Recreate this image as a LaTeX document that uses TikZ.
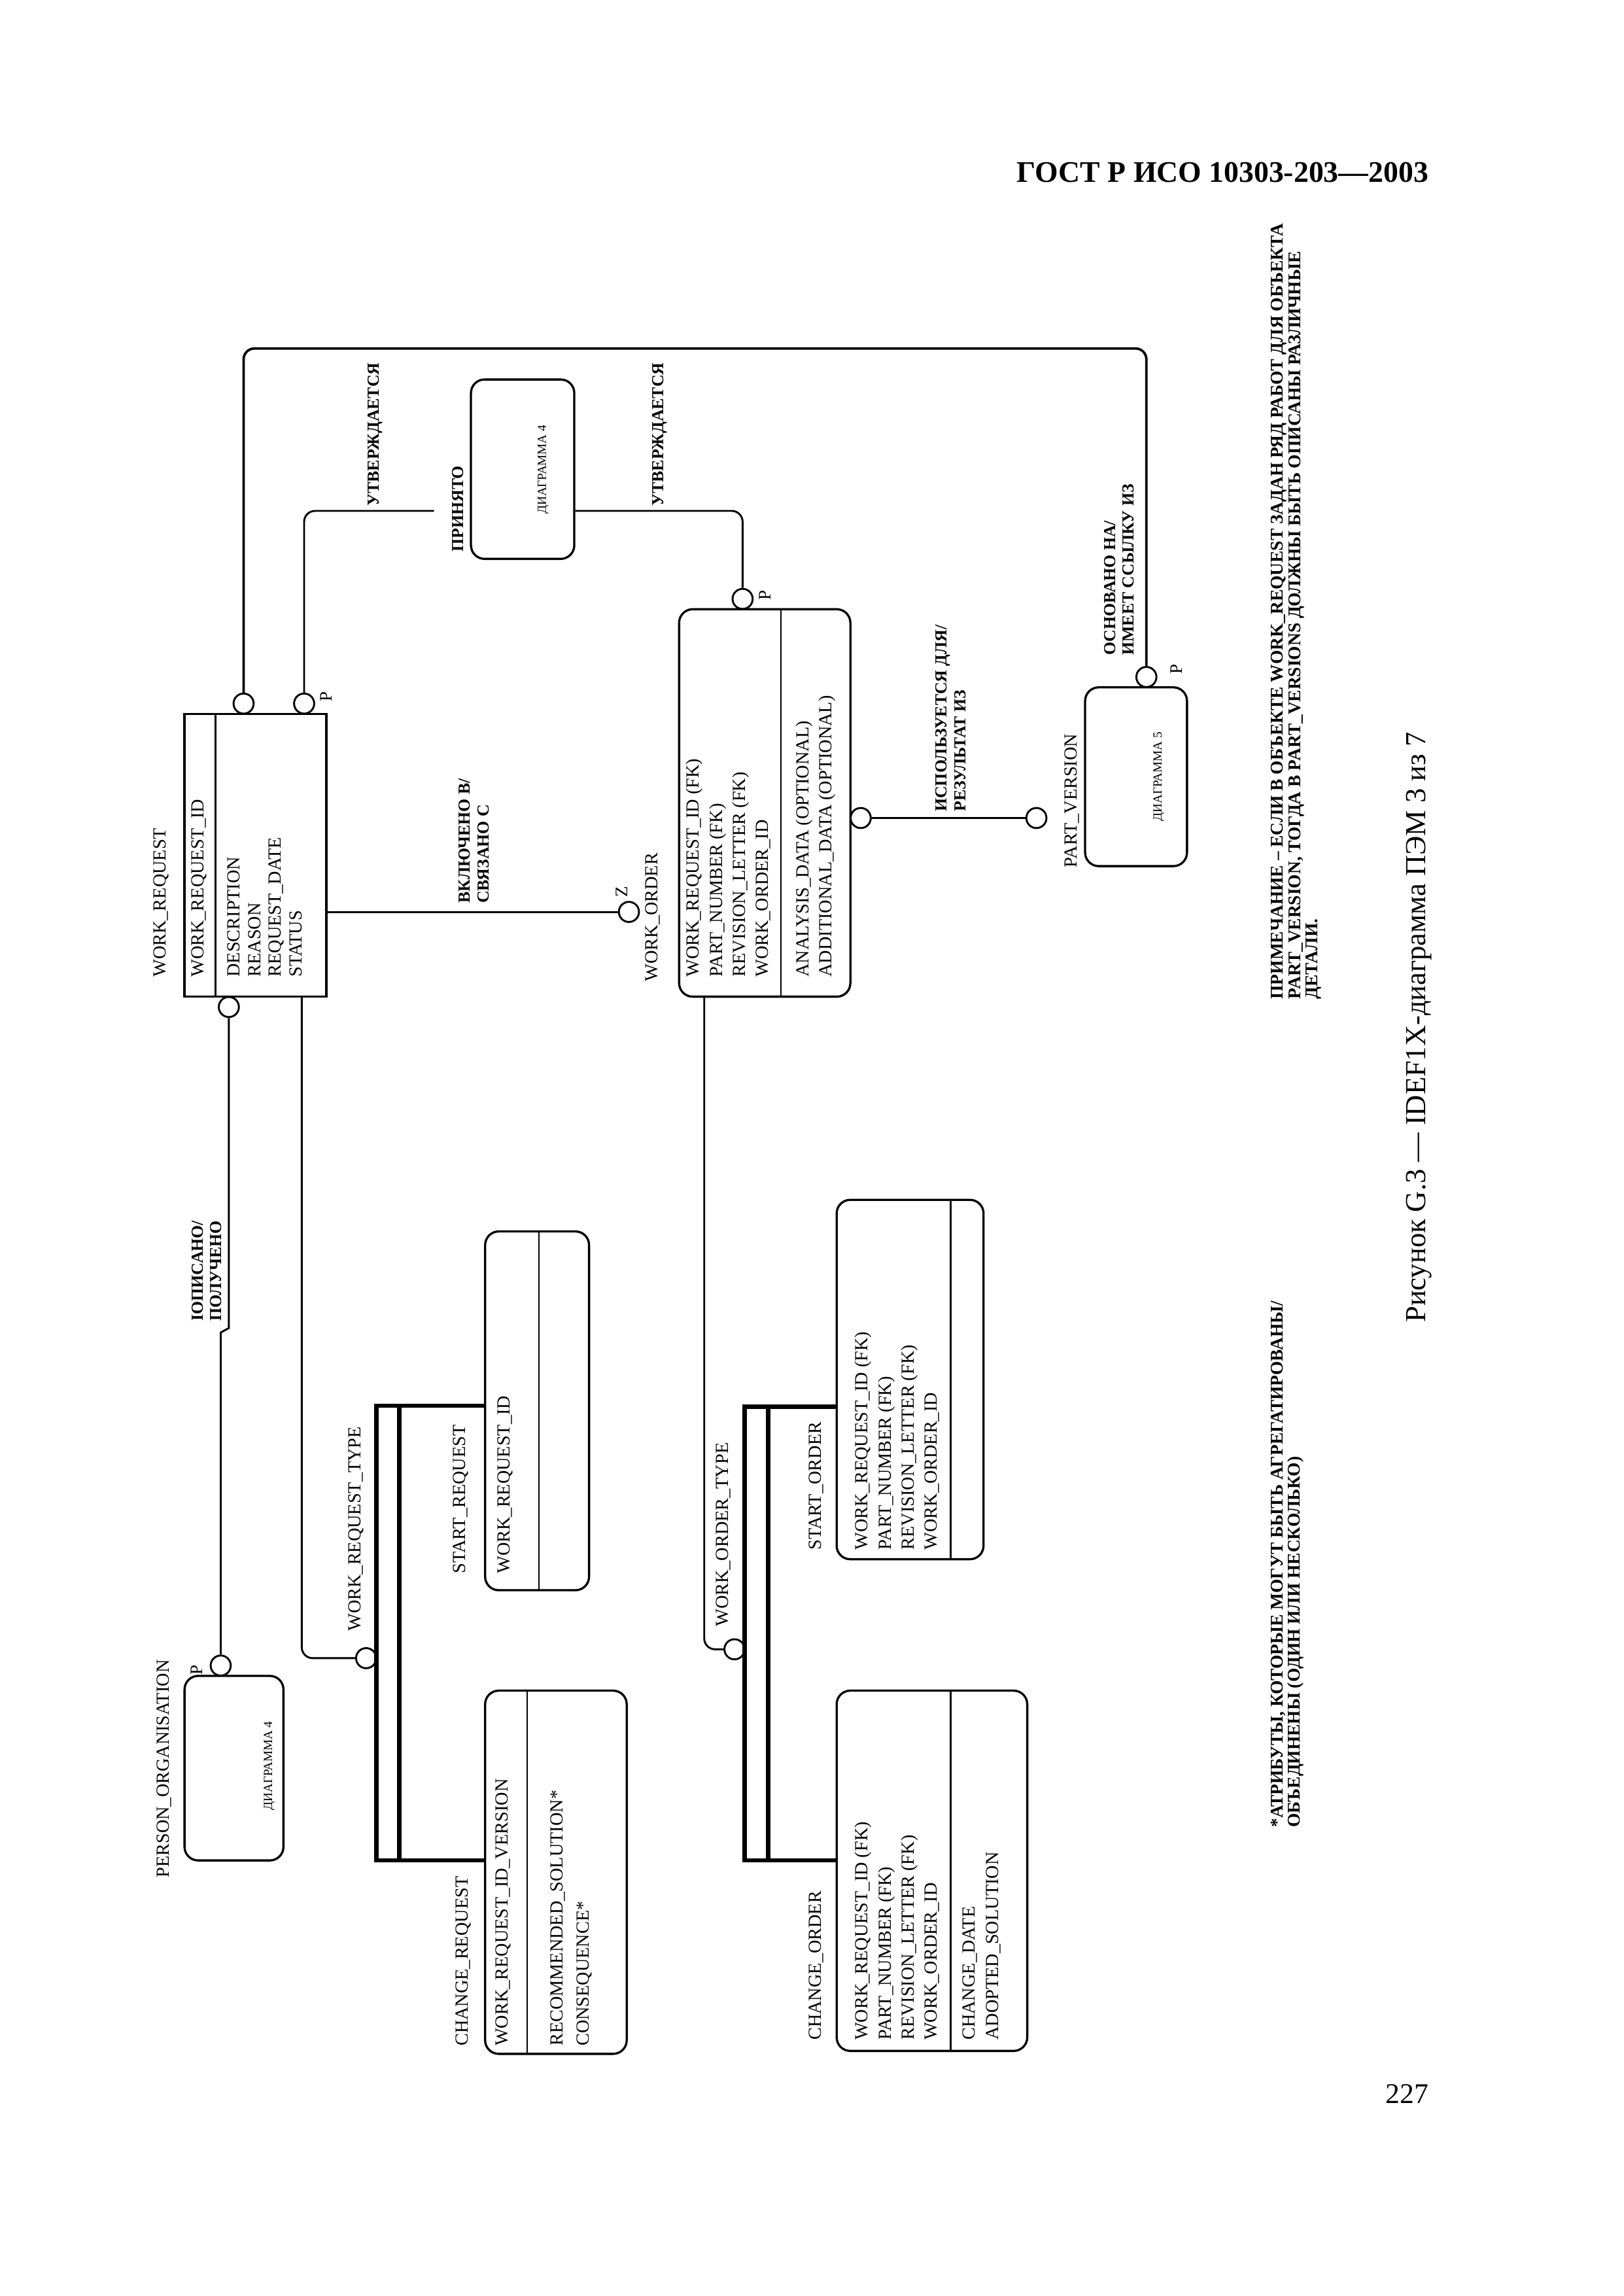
\documentclass[tikz,border=0pt]{standalone}
\usepackage{fontspec}
\setmainfont{Liberation Serif}
\usetikzlibrary{fit,positioning}

\tikzset{
  ent/.style={draw, line width=.8pt, inner sep=0pt},
  entr/.style={ent, rounded corners=5pt},
  ring/.style={draw, circle, fill=white, line width=.7pt, minimum size=2.6mm, inner sep=0pt},
  rel/.style={line width=.7pt, rounded corners=4pt},
  divline/.style={line width=.6pt},
  catbar/.style={line width=1.6pt},
  lbl/.style={rotate=90, anchor=west, align=left, inner sep=0pt, font=\fontsize{6.8}{8.5}\selectfont},
  verb/.style={lbl, font=\fontsize{6.2}{6.8}\selectfont\bfseries},
  card/.style={rotate=90, inner sep=0pt, font=\fontsize{6.5}{7}\selectfont},
  diag/.style={rotate=90, inner sep=0pt, font=\fontsize{4.6}{5.5}\selectfont},
  notes/.style={lbl, font=\fontsize{6.6}{6.3}\selectfont\bfseries},
}

\begin{document}
\begin{tikzpicture}[x=0.19091mm, y=-0.19091mm]
    \useasboundingbox (0,0) rectangle (1100,1555);

    % page head and number
    \node[anchor=base east, font=\fontsize{11}{13}\selectfont\bfseries] (gost) at (974,123.5) {ГОСТ Р ИСО 10303-203—2003};
    \node[anchor=base east, font=\fontsize{10.5}{12}\selectfont] (page) at (974,1424.5) {227};

    % entities
    \node[ent, fit={(125,483.5) (221,675)}] (wr) {};
    \node[entr, fit={(460,412.6) (576,675)}] (wo) {};
    \node[entr, fit={(319,257) (389,378.5)}] (dtop) {};
    \node[entr, fit={(735,465.5) (804,586.6)}] (pv) {};
    \node[entr, fit={(125,1135) (192,1260)}] (po) {};
    \node[entr, fit={(328.6,834) (399,1077)}] (sr) {};
    \node[entr, fit={(328.6,1145) (424.5,1391)}] (cr) {};
    \node[entr, fit={(566.7,812.6) (666.2,1056)}] (so) {};
    \node[entr, fit={(566.7,1145) (695.8,1389)}] (co) {};

    \draw[divline] (146,483.5) -- (146,675);
    \draw[divline] (529,412.6) -- (529,675);
    \draw[divline] (365,834) -- (365,1077);
    \draw[divline] (357,1145) -- (357,1391);
    \draw[divline] (644,812.6) -- (644,1056);
    \draw[divline] (644,1145) -- (644,1389);

    % relationship ends
    \node[ring] (rwr1) at (165,476.5) {};
    \node[ring] (rwr2) at (206,476.5) {};
    \node[ring] (rwr3) at (155,682) {};
    \node[ring] (rz) at (426,617.6) {};
    \node[ring] (rwo1) at (503,405.6) {};
    \node[ring] (rwo2) at (583,554) {};
    \node[ring] (rpv1) at (702,554) {};
    \node[ring] (rpv2) at (776.5,458.5) {};
    \node[ring] (rpo) at (149.5,1128) {};
    \node[ring] (rwrt) at (248,1123) {};
    \node[ring] (rwot) at (497.5,1117) {};

    % connectors
    \coordinate (ytop) at (0,236);
    \coordinate (acc) at (294,346);
    \coordinate (wrb) at (204.4,675);
    \coordinate (wob) at (477,675);
    \draw[rel, line width=.9pt] (rwr1.north) -- (rwr1.north |- ytop) -| (rpv2.north);
    \draw[rel] (rwr2.north) |- (acc);
    \draw[rel] (dtop.east |- acc) -| (rwo1.north);
    \draw[rel] (wr.east |- rz) -- (rz.west);
    \draw[rel] (rwo2.east) -- (rpv1.west);
    \draw[rel, rounded corners=0pt] (rwr3.south) -- ++(0,210) -- ++(-5.5,3) -- (rpo.north);
    \draw[rel] (wrb) |- (rwrt.west);
    \draw[rel] (wob) |- (rwot.west);

    % category symbols
    \coordinate (wrt1) at (255,952);
    \coordinate (wrt2) at (255,1260);
    \coordinate (wrt3) at (270.6,952);
    \coordinate (wrt4) at (270.6,1260);
    \draw[catbar] (sr.west |- wrt1) -- (wrt1) -- (wrt2) -- (cr.west |- wrt2);
    \draw[catbar] (wrt3) -- (wrt4);
    \coordinate (wot1) at (504.4,952.6);
    \coordinate (wot2) at (504.4,1260);
    \coordinate (wot3) at (520.2,952.6);
    \coordinate (wot4) at (520.2,1260);
    \draw[catbar] (so.west |- wot1) -- (wot1) -- (wot2) -- (co.west |- wot2);
    \draw[catbar] (wot3) -- (wot4);

    % names and attributes
    \node[lbl] (wrname) at (109,662) {WORK\_REQUEST};
    \node[lbl] (wrkey) at (135,662) {WORK\_REQUEST\_ID};
    \node[lbl, font=\fontsize{6.8}{7.6}\selectfont] (wrattr) at (179.3,662) {DESCRIPTION\\REASON\\REQUEST\_DATE\\STATUS};
    \node[lbl] (woname) at (442,665) {WORK\_ORDER};
    \node[lbl] (wokey) at (493.5,662) {WORK\_REQUEST\_ID (FK)\\PART\_NUMBER (FK)\\REVISION\_LETTER (FK)\\WORK\_ORDER\_ID};
    \node[lbl] (woattr) at (552.5,662) {ANALYSIS\_DATA (OPTIONAL)\\ADDITIONAL\_DATA (OPTIONAL)};
    \node[lbl] (pvname) at (726,588) {PART\_VERSION};
    \node[lbl] (poname) at (111,1272) {PERSON\_ORGANISATION};
    \node[lbl] (wrtname) at (241,1105) {WORK\_REQUEST\_TYPE};
    \node[lbl] (srname) at (312,1066) {START\_REQUEST};
    \node[lbl] (srkey) at (342,1066) {WORK\_REQUEST\_ID};
    \node[lbl] (crname) at (314,1386) {CHANGE\_REQUEST};
    \node[lbl] (crkey) at (341,1386) {WORK\_REQUEST\_ID\_VERSION};
    \node[lbl, font=\fontsize{6.8}{9.5}\selectfont] (crattr) at (387,1386) {RECOMMENDED\_SOLUTION*\\CONSEQUENCE*};
    \node[lbl] (wotname) at (490,1102) {WORK\_ORDER\_TYPE};
    \node[lbl] (soname) at (553,1050) {START\_ORDER};
    \node[lbl] (sokey) at (607.7,1050) {WORK\_REQUEST\_ID (FK)\\PART\_NUMBER (FK)\\REVISION\_LETTER (FK)\\WORK\_ORDER\_ID};
    \node[lbl] (coname) at (553,1382) {CHANGE\_ORDER};
    \node[lbl] (cokey) at (607.7,1382) {WORK\_REQUEST\_ID (FK)\\PART\_NUMBER (FK)\\REVISION\_LETTER (FK)\\WORK\_ORDER\_ID};
    \node[lbl] (coattr) at (665,1382) {CHANGE\_DATE\\ADOPTED\_SOLUTION};
    \node[diag] (dtoptxt) at (368,318) {ДИАГРАММА 4};
    \node[diag] (pvtxt) at (785,526) {ДИАГРАММА 5};
    \node[diag] (potxt) at (182.5,1196) {ДИАГРАММА 4};

    % verb phrases
    \node[verb] (v1) at (254,343) {УТВЕРЖДАЕТСЯ};
    \node[verb] (v2) at (310,374) {ПРИНЯТО};
    \node[verb] (v3) at (447,343) {УТВЕРЖДАЕТСЯ};
    \node[verb] (v4) at (321,612) {ВКЛЮЧЕНО В/\\СВЯЗАНО С};
    \node[verb] (v5) at (644,550) {ИСПОЛЬЗУЕТСЯ ДЛЯ/\\РЕЗУЛЬТАТ ИЗ};
    \node[verb] (v6) at (758,444) {ОСНОВАНО НА/\\ИМЕЕТ ССЫЛКУ ИЗ};
    \node[verb] (v7) at (140,895) {IОПИСАНО/\\ПОЛУЧЕНО};

    % cardinalities
    \node[card] (p1) at (221,472) {P};
    \node[card] (p2) at (518,403) {P};
    \node[card] (p3) at (797,453) {P};
    \node[card] (p4) at (133,1131) {P};
    \node[card] (z1) at (421,604) {Z};

    % notes and caption
    \node[notes] (note) at (878,677) {ПРИМЕЧАНИЕ – ЕСЛИ В ОБЪЕКТЕ WORK\_REQUEST ЗАДАН РЯД РАБОТ ДЛЯ ОБЪЕКТА\\PART\_VERSION, ТОГДА В PART\_VERSIONS ДОЛЖНЫ БЫТЬ ОПИСАНЫ РАЗЛИЧНЫЕ\\ДЕТАЛИ.};
    \node[notes] (foot) at (872,1238) {*АТРИБУТЫ, КОТОРЫЕ МОГУТ БЫТЬ АГРЕГАТИРОВАНЫ/\\ОБЪЕДИНЕНЫ (ОДИН ИЛИ НЕСКОЛЬКО)};
    \node[lbl, font=\fontsize{10.7}{13}\selectfont] (caption) at (961,896) {Рисунок G.3 — IDEF1X-диаграмма ПЭМ 3 из 7};
\end{tikzpicture}
\end{document}
